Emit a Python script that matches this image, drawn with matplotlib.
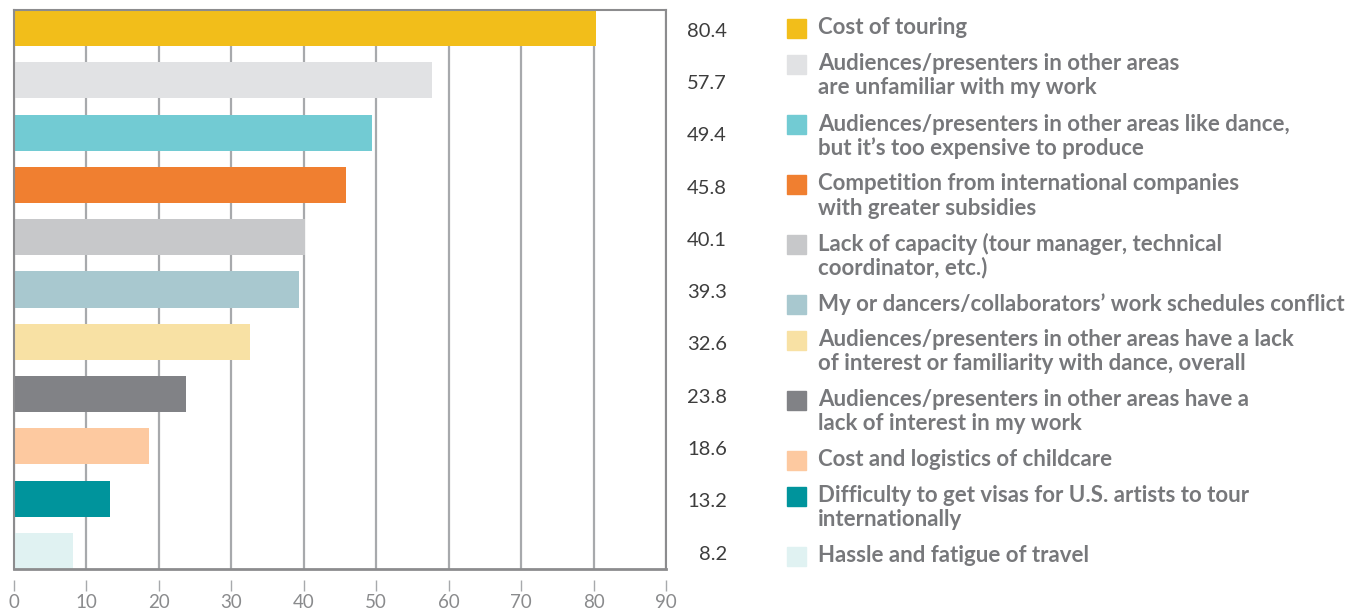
import matplotlib.pyplot as plt
from matplotlib.patches import Rectangle

# survey data: challenges to touring (percent of respondents)
categories = [
    "Cost of touring",
    "Audiences/presenters in other areas\nare unfamiliar with my work",
    "Audiences/presenters in other areas like dance,\nbut it\u2019s too expensive to produce",
    "Competition from international companies\nwith greater subsidies",
    "Lack of capacity (tour manager, technical\ncoordinator, etc.)",
    "My or dancers/collaborators\u2019 work schedules conflict",
    "Audiences/presenters in other areas have a lack\nof interest or familiarity with dance, overall",
    "Audiences/presenters in other areas have a\nlack of interest in my work",
    "Cost and logistics of childcare",
    "Difficulty to get visas for U.S. artists to tour\ninternationally",
    "Hassle and fatigue of travel",
]
values = [80.4, 57.7, 49.4, 45.8, 40.1, 39.3, 32.6, 23.8, 18.6, 13.2, 8.2]
colors = ["#f2be1a", "#e1e2e4", "#72cbd3", "#f07f30", "#c7c8ca", "#a8c8cf",
          "#f8e1a4", "#818286", "#fdc9a0", "#00949c", "#e0f2f2"]
xticks = [0, 10, 20, 30, 40, 50, 60, 70, 80, 90]

W, H = 1359, 611
plt.rcParams['font.family'] = ['Lato', 'DejaVu Sans']

fig = plt.figure(figsize=(W / 100, H / 100), dpi=100)
ax = fig.add_axes([14 / W, 1 - 569 / H, (666 - 14) / W, (569 - 10) / H])

bar_h = 0.69
ypos = list(range(len(values)))
ax.barh(ypos, values, height=bar_h, color=colors, zorder=2)
ax.set_xlim(0, 90)
ax.set_ylim(len(values) - 1 + bar_h / 2, -bar_h / 2)

# grid and frame
ax.set_axisbelow(True)
ax.xaxis.grid(True, color="#a7a9ac", linewidth=1.6)
ax.set_yticks([])
for s in ['top', 'left', 'right']:
    ax.spines[s].set_color("#8c8c8e")
    ax.spines[s].set_linewidth(1.5)
ax.spines['bottom'].set_position(('outward', 8))
ax.spines['bottom'].set_visible(False)
ax.axhline(ax.get_ylim()[0], color="#8c8c8e", linewidth=2, clip_on=False, zorder=3)

ax.set_xticks(xticks)
ax.tick_params(axis='x', direction='out', length=8, width=1, color="#a7a9ac",
               labelsize=13.5, labelcolor="#8a8b8d", pad=2)

# value column
for i, v in enumerate(values):
    ax.text((727 - 14) / 652, i + 0.06, f"{v:.1f}", transform=ax.get_yaxis_transform(),
            ha='right', va='center', fontsize=14.5, color="#3d3d3d")

# legend column
y = 28
for lab, c in zip(categories, colors):
    lines = lab.split("\n")
    fig.patches.append(Rectangle((787 / W, 1 - (y + 10) / H), 19 / W, 19 / H,
                                 transform=fig.transFigure, color=c))
    for k, line in enumerate(lines):
        fig.text(818 / W, 1 - (y + 24 * k) / H, line, ha='left', va='center',
                 fontsize=16, fontweight='bold', color="#77787b")
    y += 24 * len(lines) + 12

fig.savefig("out.png", dpi=100)
